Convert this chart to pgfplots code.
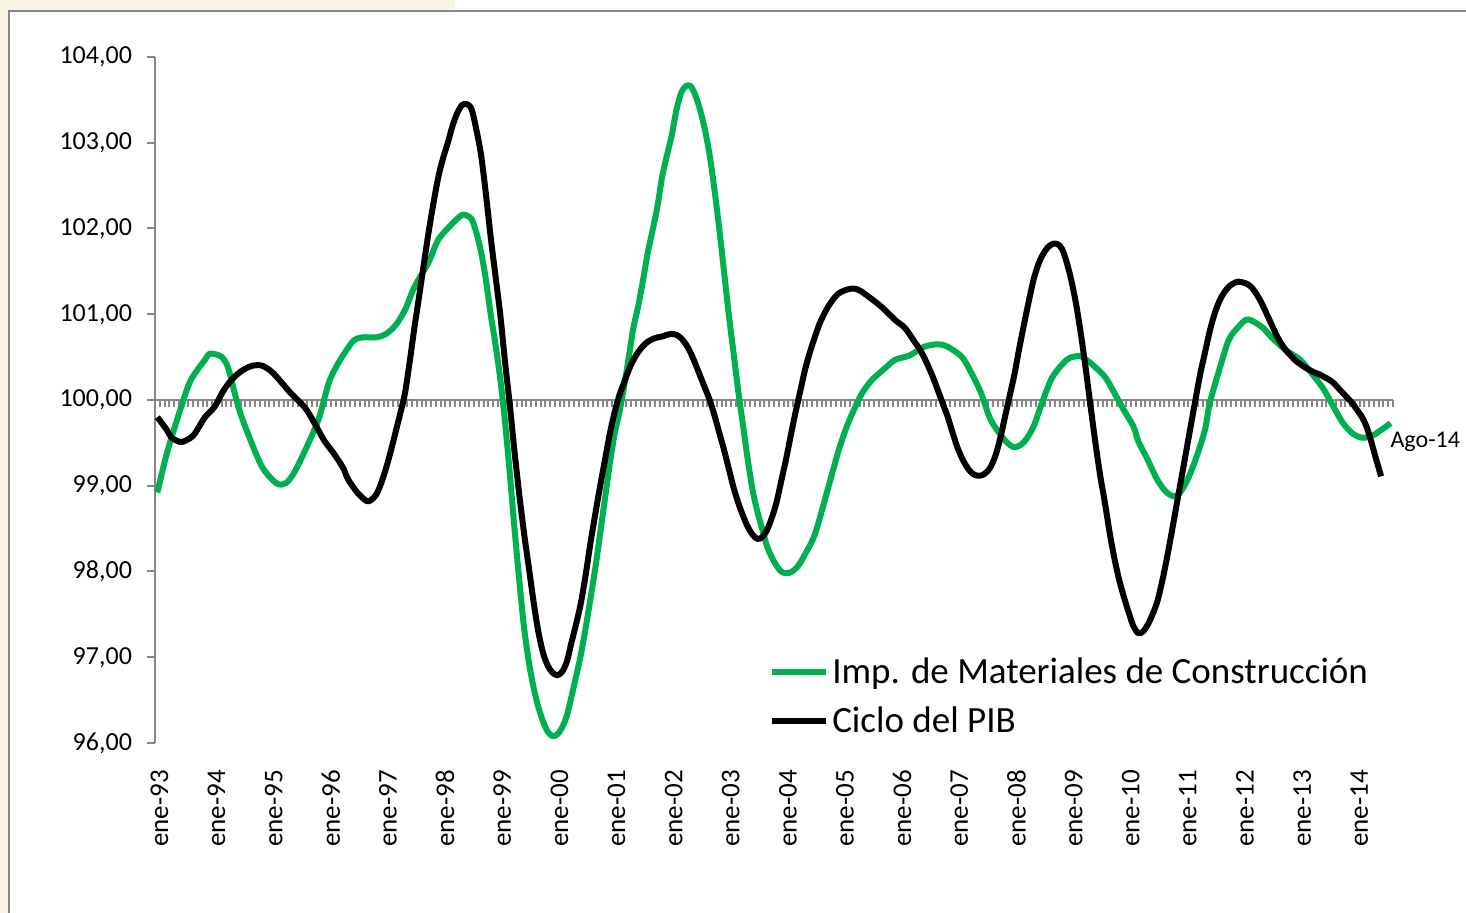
\documentclass[border=0pt]{standalone}
\usepackage{fontspec}
\setmainfont{Carlito}
\usepackage{pgfplots}
\pgfplotsset{compat=1.18}
\definecolor{excelgreen}{RGB}{0,176,80}
\definecolor{axgray}{RGB}{134,134,134}
\definecolor{wm}{RGB}{248,243,226}

\begin{document}
\begin{tikzpicture}
\path[use as bounding box] (-77.5pt,-85pt) rectangle (655.5pt,371.5pt);
\fill[wm] (-77.5pt,-85pt) rectangle (-73pt,371.5pt);
\fill[wm] (-77.5pt,366pt) rectangle (150pt,371.5pt);
\draw[axgray, line width=1pt] (-73pt,-85pt) -- (-73pt,366pt) -- (655.5pt,366pt);

% category axis crossing at 100, one tick per month
\begin{axis}[
    at={(0pt,171.5pt)}, anchor=south west,
    scale only axis, width=619pt, height=171.5pt,
    xmin=-0.5, xmax=259.5, ymin=100, ymax=104,
    axis x line*=bottom, axis y line=none,
    xtick={-0.5,0.5,...,259.5}, xticklabels={},
    tick align=outside, major tick length=3.5pt,
    x axis line style={axgray, line width=1.3pt},
    xtick style={axgray, line width=1pt},
]
\addplot[draw=none] coordinates {(0,101)};
\end{axis}

\begin{axis}[
    at={(0pt,0pt)}, anchor=south west,
    scale only axis, width=619pt, height=343pt,
    xmin=-0.5, xmax=259.5, ymin=96, ymax=104,
    clip=false,
    axis y line*=left, axis x line*=bottom,
    x axis line style={draw=none},
    y axis line style={axgray, line width=1pt},
    ytick={96,97,...,104},
    ytick style={axgray, line width=1pt},
    tick align=outside, major tick length=4pt,
    xtick={0,12,...,252},
    xticklabels={ene-93,ene-94,ene-95,ene-96,ene-97,ene-98,ene-99,ene-00,ene-01,ene-02,ene-03,ene-04,ene-05,ene-06,ene-07,ene-08,ene-09,ene-10,ene-11,ene-12,ene-13,ene-14},
    xtick style={draw=none},
    xticklabel style={font=\fontsize{13.5}{13.5}\selectfont, xshift=1pt, yshift=-6pt, rotate=90, anchor=east},
    yticklabel style={font=\fontsize{13}{13}\selectfont, xshift=-4pt,
        /pgf/number format/fixed, /pgf/number format/fixed zerofill,
        /pgf/number format/precision=2, /pgf/number format/use comma},
    /pgf/number format/assume math mode=true,
    legend style={draw=none, fill=none, at={(0.491,0.135)}, anchor=north west,
        font=\fontsize{18.5}{20}\selectfont, row sep=7pt, nodes={inner sep=1.5pt}},
    legend cell align=left,
    legend image code/.code={\draw[#1, line width=3pt] (0pt,0pt) -- (27pt,0pt);},
]
\addplot[excelgreen, line width=3pt, smooth, tension=0.5, line join=round] coordinates {
(0,98.92) (2,99.38) (5,99.92) (7,100.23) (10,100.47) (11,100.54) (13,100.52) (14,100.47)
(15,100.35) (17,99.92) (19,99.61) (22,99.22) (25,99.03) (27,99.03) (29,99.18) (32,99.53)
(34,99.80) (36,100.20) (38,100.43) (41,100.68) (43,100.73) (46,100.73) (48,100.77) (50,100.87)
(52,101.05) (54,101.32) (57,101.61) (59,101.87) (62,102.06) (64,102.16) (65,102.15) (66,102.11)
(67,101.95) (68,101.72) (69,101.40) (70,101.00) (71,100.65) (72,100.25) (73,99.75) (74,99.15)
(75,98.50) (76,97.90) (77,97.35) (78,96.95) (79,96.65) (80,96.42) (81,96.25) (82,96.13)
(83,96.08) (84,96.10) (85,96.18) (86,96.32) (87,96.55) (88,96.79) (89,97.05) (90,97.36)
(91,97.70) (92,98.05) (93,98.45) (94,98.85) (95,99.25) (96,99.60) (97,99.85) (98,100.15)
(99,100.50) (100,100.85) (101,101.10) (102,101.40) (103,101.72) (104,101.98) (105,102.25) (106,102.60)
(107,102.85) (108,103.08) (109,103.38) (110,103.58) (111,103.66) (112,103.66) (113,103.55) (114,103.38)
(115,103.15) (116,102.85) (117,102.45) (118,102.00) (119,101.50) (120,101.00) (121,100.55) (122,100.10)
(123,99.70) (124,99.30) (125,98.95) (126,98.70) (127,98.50) (128,98.30) (129,98.17) (130,98.07)
(131,98.00) (132,97.98) (133,97.99) (134,98.03) (135,98.10) (136,98.20) (137,98.30) (138,98.42)
(139,98.60) (140,98.80) (141,99.00) (142,99.20) (143,99.40) (144,99.57) (145,99.72) (146,99.85)
(147,99.97) (148,100.08) (150,100.23) (153,100.38) (155,100.47) (158,100.52) (161,100.62) (164,100.65)
(166,100.62) (169,100.50) (171,100.31) (173,100.08) (175,99.77) (178,99.53) (180,99.45) (182,99.51)
(184,99.69) (186,100.00) (188,100.27) (191,100.47) (193,100.51) (194,100.51) (196,100.43) (199,100.27)
(201,100.08) (203,99.88) (205,99.69) (206,99.52) (208,99.30) (210,99.07) (212,98.92) (214,98.88)
(216,99.03) (218,99.30) (220,99.65) (221,99.96) (223,100.35) (225,100.70) (227,100.85) (229,100.94)
(232,100.85) (234,100.73) (237,100.58) (240,100.47) (243,100.27) (245,100.12) (247,99.92) (249,99.73)
(251,99.61) (253,99.56) (255,99.58) (257,99.65) (259,99.73)
};
\addlegendentry{Imp. de Materiales de Construcción}
\addplot[black, line width=3pt, smooth, tension=0.5, line join=round] coordinates {
(0,99.80) (2,99.65) (3,99.56) (5,99.51) (7,99.56) (8,99.62) (10,99.80) (12,99.92)
(14,100.12) (16,100.26) (18,100.35) (20,100.40) (22,100.40) (24,100.33) (26,100.21) (28,100.08)
(31,99.91) (33,99.73) (35,99.53) (37,99.38) (39,99.21) (40,99.08) (42,98.92) (44,98.82)
(45,98.84) (46,98.90) (47,99.03) (48,99.20) (49,99.40) (50,99.62) (51,99.84) (52,100.08)
(53,100.45) (54,100.85) (55,101.22) (56,101.60) (57,101.97) (58,102.30) (59,102.60) (60,102.82)
(61,103.00) (62,103.20) (63,103.35) (64,103.44) (65,103.45) (66,103.39) (67,103.15) (68,102.85)
(69,102.40) (70,101.90) (71,101.45) (72,101.00) (73,100.45) (74,99.95) (75,99.40) (76,98.90)
(77,98.45) (78,98.05) (79,97.65) (80,97.30) (81,97.05) (82,96.90) (83,96.82) (84,96.79)
(85,96.83) (86,96.95) (87,97.18) (88,97.40) (89,97.65) (90,97.98) (91,98.35) (92,98.68)
(93,99.00) (94,99.30) (95,99.60) (96,99.85) (97,100.05) (98,100.20) (99,100.35) (100,100.47)
(101,100.56) (102,100.63) (103,100.68) (104,100.71) (105,100.73) (106,100.74) (107,100.76) (108,100.77)
(109,100.76) (110,100.72) (111,100.65) (112,100.55) (113,100.42) (114,100.28) (115,100.14) (116,100.00)
(117,99.82) (118,99.62) (119,99.42) (120,99.20) (121,98.98) (122,98.80) (123,98.65) (124,98.52)
(125,98.43) (126,98.38) (127,98.40) (128,98.48) (129,98.62) (130,98.80) (131,99.05) (132,99.30)
(133,99.58) (134,99.85) (135,100.10) (136,100.35) (137,100.55) (138,100.72) (139,100.88) (140,101.00)
(141,101.10) (142,101.18) (143,101.24) (144,101.27) (145,101.29) (146,101.30) (147,101.29) (148,101.26)
(149,101.22) (152,101.09) (155,100.93) (157,100.84) (159,100.68) (160,100.60) (161,100.50) (162,100.38)
(163,100.25) (164,100.10) (165,99.95) (166,99.80) (167,99.62) (168,99.45) (169,99.32) (170,99.22)
(171,99.15) (172,99.12) (173,99.12) (174,99.15) (175,99.22) (176,99.35) (177,99.55) (178,99.80)
(179,100.05) (180,100.30) (181,100.60) (182,100.88) (183,101.15) (184,101.40) (185,101.58) (186,101.70)
(187,101.78) (188,101.82) (189,101.82) (190,101.76) (191,101.60) (192,101.38) (193,101.10) (194,100.75)
(195,100.35) (196,99.92) (197,99.50) (198,99.12) (199,98.80) (200,98.45) (201,98.15) (202,97.90)
(203,97.70) (204,97.52) (205,97.36) (206,97.28) (207,97.30) (208,97.38) (209,97.50) (210,97.65)
(211,97.88) (212,98.15) (213,98.45) (214,98.76) (215,99.07) (216,99.38) (217,99.69) (218,100.00)
(219,100.30) (220,100.55) (221,100.80) (222,101.00) (223,101.15) (224,101.25) (225,101.32) (226,101.36)
(227,101.38) (228,101.37) (229,101.35) (230,101.30) (231,101.22) (232,101.12) (233,101.00) (234,100.88)
(235,100.76) (236,100.66) (237,100.58) (238,100.52) (239,100.46) (240,100.42) (241,100.38) (242,100.35)
(243,100.32) (244,100.30) (245,100.27) (246,100.24) (247,100.20) (248,100.14) (249,100.08) (250,100.02)
(251,99.96) (252,99.88) (253,99.80) (254,99.68) (255,99.50) (256,99.30) (257,99.11)
};
\addlegendentry{Ciclo del PIB}
\node[anchor=west, inner sep=0pt, font=\fontsize{12}{12}\selectfont] at (axis cs:258.9,99.51) {Ago-14};
\end{axis}
\end{tikzpicture}
\end{document}
